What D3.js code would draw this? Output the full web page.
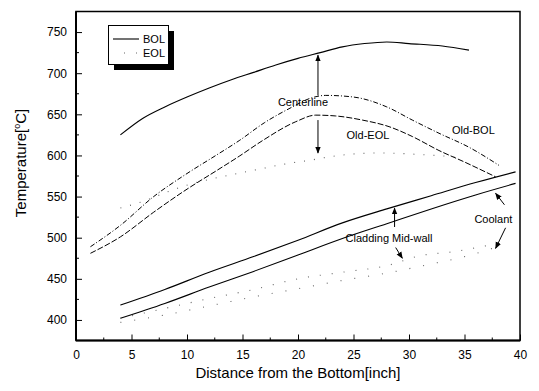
<!DOCTYPE html>
<html>
<head>
<meta charset="utf-8">
<script src="https://cdn.jsdelivr.net/npm/d3@7"></script>
<style>
  body { margin: 0; background: #fff; }
  svg { display: block; font-family: 'Liberation Sans', Arial, sans-serif; }
</style>
</head>
<body>
<svg id="chart" width="539" height="391"></svg>
<script>
// data (x in inch, T in degC)
const bolCenterX = [4, 6, 8, 10, 12, 14, 16, 18, 20, 22, 24, 26, 28, 30, 33, 35.4];
const bolCenterT = [625, 645, 659, 671, 682, 692, 701, 710, 718, 725, 732, 736, 738, 736, 733, 728];

const oldBolX = [1.3, 4, 7, 10, 12.6, 14.7, 17, 19.5, 21, 22.5, 25, 28, 30.3, 32.7, 35.4, 38.1];
const oldBolT = [489, 515, 550, 578, 600, 618, 640, 659, 669, 673, 671, 659, 643, 627, 610, 588];

const oldEolX = [1.3, 4, 7, 10, 12.6, 14.7, 16.8, 19.8, 21.6, 23.4, 25.8, 28.2, 30.3, 32.7, 35, 37.8];
const oldEolT = [481, 501, 531, 559, 581, 599, 618, 641, 649, 648, 643, 635, 623, 606, 592, 574];

const eolCenterX = [4, 6, 8.7, 10.8, 12.4, 16.4, 19, 21, 23.7, 27.3, 31.2, 34.5];
const eolCenterT = [536, 544, 558, 567, 572, 583, 590, 594, 600, 603, 601, 598];

const bolCladX = [4, 8, 12, 16, 20, 24, 28, 32, 36, 39.6];
const bolCladT = [418, 437, 458, 477, 497, 518, 535, 551, 567, 580];

const bolCoolX = [4, 8, 12, 16, 20, 24, 28, 32, 36, 39.6];
const bolCoolT = [402, 420, 440, 459, 479, 499, 517, 535, 552, 566];

const eolCladX = [4, 8, 12, 16, 20, 24, 28, 31, 34, 38];
const eolCladT = [402, 414, 426, 437, 450, 458, 466, 478, 483, 493];

const eolCoolX = [4, 8, 12, 16, 20, 24, 28, 32, 35, 38];
const eolCoolT = [397, 406, 417, 428, 438, 448, 457, 468, 477, 489];

const xTicks = [0, 5, 10, 15, 20, 25, 30, 35, 40];
const yTicks = [400, 450, 500, 550, 600, 650, 700, 750];

// annotation text: [label, x, T]
const labels = [
  ['Centerline', 20.45, 665],
  ['Old-EOL', 26.3, 625],
  ['Old-BOL', 35.8, 631],
  ['Cladding Mid-wall', 28.2, 500],
  ['Coolant', 37.6, 522]
];
// arrows: [x0, T0, x1, T1], head at the second point
const arrows = [
  [21.8, 673, 21.8, 722],
  [21.8, 643, 21.8, 603],
  [28.7, 513, 28.7, 536],
  [28.8, 488, 29.4, 475],
  [38.6, 540, 37.8, 554],
  [38.7, 512, 37.8, 487]
];

const svg = d3.select('#chart');

/**
 * SIZE DEFINITIONS
 */
const plotLeft = 76, plotRight = 520, plotTop = 11.5, plotBottom = 340.5;

/**
 * SCALES
 */
const x = d3.scaleLinear().domain([0, 40]).range([plotLeft, plotRight]);
const y = d3.scaleLinear().domain([375, 775]).range([plotBottom, plotTop]);

svg.append('defs').append('marker')
  .attr('id', 'head')
  .attr('viewBox', '0 0 10 10')
  .attr('refX', 9).attr('refY', 5)
  .attr('markerWidth', 7).attr('markerHeight', 7)
  .attr('markerUnits', 'userSpaceOnUse')
  .attr('orient', 'auto')
  .append('path')
  .attr('d', 'M0,1 L10,5 L0,9 Z')
  .attr('fill', '#000');

/**
 * AXES
 */
const xAxis = d3.axisBottom(x).tickValues(xTicks).tickSizeInner(-6).tickSizeOuter(0).tickPadding(0);
const gx = svg.append('g').attr('transform', `translate(0,${plotBottom})`).call(xAxis);
gx.select('.domain').remove();
gx.selectAll('.tick text').attr('y', 10).attr('font-size', 12).attr('font-family', 'Liberation Sans, Arial, sans-serif');

const xMinor = d3.range(2.5, 40, 5);
svg.append('g').selectAll('line').data(xMinor).join('line')
  .attr('x1', d => x(d)).attr('x2', d => x(d))
  .attr('y1', plotBottom).attr('y2', plotBottom - 3)
  .attr('stroke', '#000');

const yAxis = d3.axisLeft(y).tickValues(yTicks).tickSizeInner(-6).tickSizeOuter(0).tickPadding(9);
const gy = svg.append('g').attr('transform', `translate(${plotLeft},0)`).call(yAxis);
gy.select('.domain').remove();
gy.selectAll('.tick text').attr('font-size', 12).attr('font-family', 'Liberation Sans, Arial, sans-serif');

const yMinor = d3.range(425, 775, 50);
svg.append('g').selectAll('line').data(yMinor).join('line')
  .attr('x1', plotLeft).attr('x2', plotLeft + 3)
  .attr('y1', d => y(d)).attr('y2', d => y(d))
  .attr('stroke', '#000');

// frame
svg.append('rect')
  .attr('x', plotLeft).attr('y', plotTop)
  .attr('width', plotRight - plotLeft).attr('height', plotBottom - plotTop)
  .attr('fill', 'none').attr('stroke', '#000').attr('stroke-width', 1.5);
svg.append('line')
  .attr('x1', plotLeft).attr('x2', plotLeft).attr('y1', plotTop).attr('y2', plotBottom)
  .attr('stroke', '#000').attr('stroke-width', 2);
svg.append('line')
  .attr('x1', plotLeft).attr('x2', plotRight).attr('y1', plotBottom).attr('y2', plotBottom)
  .attr('stroke', '#000').attr('stroke-width', 2);

// axis titles
svg.append('text')
  .attr('x', (plotLeft + plotRight) / 2).attr('y', 378)
  .attr('text-anchor', 'middle').attr('font-size', 15)
  .text('Distance from the Bottom[inch]');

const yt = svg.append('text')
  .attr('transform', 'translate(26,163) rotate(-90)')
  .attr('text-anchor', 'middle').attr('font-size', 15);
yt.append('tspan').text('Temperature[');
yt.append('tspan').attr('font-size', 9).attr('dy', -6).text('o');
yt.append('tspan').attr('dy', 6).text('C]');

/**
 * CURVES
 */
const line = d3.line().curve(d3.curveMonotoneX).x(d => x(d[0])).y(d => y(d[1]));
const series = [
  [bolCenterX, bolCenterT, null, 1.1, '#000'],
  [oldBolX, oldBolT, '5,2,1,2', 1, '#000'],
  [oldEolX, oldEolT, '6,2', 1, '#000'],
  [eolCenterX, eolCenterT, '1,9', 1.1, '#666'],
  [bolCladX, bolCladT, null, 1.1, '#000'],
  [bolCoolX, bolCoolT, null, 1.1, '#000'],
  [eolCladX, eolCladT, '1,11', 1.1, '#666'],
  [eolCoolX, eolCoolT, '1,13', 1.1, '#666']
];
series.forEach(([xs, ts, dash, w, c]) => {
  svg.append('path')
    .attr('d', line(xs.map((v, i) => [v, ts[i]])))
    .attr('fill', 'none')
    .attr('stroke', c)
    .attr('stroke-width', w)
    .attr('stroke-dasharray', dash);
});

/**
 * ANNOTATIONS
 */
svg.append('g').selectAll('text').data(labels).join('text')
  .attr('x', d => x(d[1])).attr('y', d => y(d[2]))
  .attr('dy', '0.35em')
  .attr('text-anchor', 'middle')
  .attr('font-size', 11)
  .text(d => d[0]);

svg.append('g').selectAll('line').data(arrows).join('line')
  .attr('x1', d => x(d[0])).attr('y1', d => y(d[1]))
  .attr('x2', d => x(d[2])).attr('y2', d => y(d[3]))
  .attr('stroke', '#000').attr('stroke-width', 1)
  .attr('marker-end', 'url(#head)');

/**
 * LEGEND
 */
const lg = svg.append('g');
lg.append('rect').attr('x', 114).attr('y', 31).attr('width', 60).attr('height', 39).attr('fill', '#000');
lg.append('rect').attr('x', 108.5).attr('y', 25.5).attr('width', 60).attr('height', 39)
  .attr('fill', '#fff').attr('stroke', '#000').attr('stroke-width', 1);
lg.append('line').attr('x1', 113).attr('x2', 139).attr('y1', 39).attr('y2', 39)
  .attr('stroke', '#000').attr('stroke-width', 1.1);
lg.append('line').attr('x1', 124).attr('x2', 139).attr('y1', 53).attr('y2', 53)
  .attr('stroke', '#666').attr('stroke-width', 1.1).attr('stroke-dasharray', '1,11');
lg.append('text').attr('x', 143).attr('y', 43).attr('font-size', 11).text('BOL');
lg.append('text').attr('x', 143).attr('y', 57).attr('font-size', 11).text('EOL');
</script>
</body>
</html>
